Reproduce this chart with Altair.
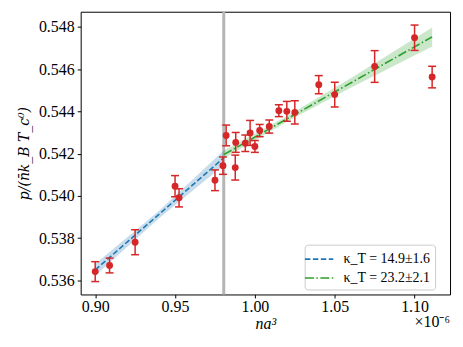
import altair as alt
import pandas as pd

# ---- data ----
na3 = [0.900, 0.909, 0.925, 0.950, 0.9525, 0.975, 0.980, 0.982, 0.9877, 0.988,
       0.994, 0.997, 1.000, 1.003, 1.009, 1.015, 1.020, 1.025, 1.040, 1.050,
       1.075, 1.100, 1.111]
p_norm = [0.53642, 0.53671, 0.53781, 0.54046, 0.53991, 0.54074, 0.54143, 0.54286,
          0.54134, 0.54253, 0.54249, 0.54298, 0.54234, 0.54309, 0.54328, 0.54403,
          0.54400, 0.54395, 0.54526, 0.54479, 0.54612, 0.54748, 0.54562]
p_err = [0.00047, 0.00035, 0.00059, 0.00050, 0.00043, 0.00049, 0.00041, 0.00049,
         0.00059, 0.00047, 0.00039, 0.00059, 0.00028, 0.00029, 0.00031, 0.00028,
         0.00047, 0.00055, 0.00043, 0.00059, 0.00075, 0.00060, 0.00051]

fit_labels = ["κ_T = 14.9±1.6", "κ_T = 23.2±2.1"]
fit1_x = [0.900, 0.9805]
fit1_y = [0.53650, 0.54180]
band1_x = [0.900, 0.940, 0.9805]
band1_lo = [0.53622, 0.53894, 0.54145]
band1_hi = [0.53678, 0.53930, 0.54215]
fit2_x = [0.9805, 1.111]
fit2_y = [0.54195, 0.54752]
band2_x = [0.9805, 1.020, 1.060, 1.111]
band2_lo = [0.54177, 0.54351, 0.54512, 0.54707]
band2_hi = [0.54213, 0.54377, 0.54556, 0.54797]
split_x = [0.9805]

x_ticks = [0.90, 0.95, 1.00, 1.05, 1.10]
y_ticks = [0.536, 0.538, 0.540, 0.542, 0.544, 0.546, 0.548]

# ---- tables ----
pts = pd.DataFrame({"x": na3, "y": p_norm, "e": p_err})
pts["lo"] = pts["y"] - pts["e"]
pts["hi"] = pts["y"] + pts["e"]

fits = pd.DataFrame({
    "x": fit1_x + fit2_x,
    "y": fit1_y + fit2_y,
    "fit": [fit_labels[0]] * len(fit1_x) + [fit_labels[1]] * len(fit2_x),
})
band1 = pd.DataFrame({"x": band1_x, "lo": band1_lo, "hi": band1_hi})
band2 = pd.DataFrame({"x": band2_x, "lo": band2_lo, "hi": band2_hi})
split = pd.DataFrame({"x": split_x})

FONT = "Liberation Serif"
RED = "#d62728"
BLUE = "#1f77b4"
GREEN = "#2ca02c"
xs = alt.Scale(domain=[0.8909, 1.1222], nice=False, zero=False)
ys = alt.Scale(domain=[0.53534, 0.54871], nice=False, zero=False)

X_AX = alt.Axis(values=x_ticks, format=".2f", title="na³", titleFont=FONT,
                titleFontSize=16, titleFontStyle="italic", titleFontWeight="normal",
                titleColor="black", titleY=29, titleBaseline="middle",
                labelFont=FONT, labelFontSize=16, labelColor="black", labelPadding=1,
                tickSize=3.5, tickColor="black", domain=False, grid=False)
Y_AX = alt.Axis(values=y_ticks, format=".3f", title="p/(n̄k_B T_c⁰)",
                titleFont="DejaVu Serif",
                titleFontSize=14, titleFontStyle="italic", titleFontWeight="normal",
                titleColor="black", titleAngle=270, titleX=-56, titleY=142,
                titleAlign="center", titleBaseline="middle",
                labelFont=FONT, labelFontSize=16, labelColor="black", labelPadding=3,
                tickSize=3.5, tickColor="black", domain=False, grid=False)

X = alt.X("x:Q", scale=xs, axis=X_AX)

LEG = alt.Legend(title=None, orient="none", legendX=225, legendY=234,
                 symbolType="M-1.5,0H1.5", symbolSize=361, symbolStrokeWidth=1.6,
                 labelFont=FONT, labelFontSize=14, labelColor="black",
                 labelOffset=14, rowPadding=1, padding=4, cornerRadius=3,
                 fillColor="white", strokeColor="#cccccc")
color_scale = alt.Scale(domain=fit_labels, range=[BLUE, GREEN])
dash_scale = alt.Scale(domain=fit_labels, range=[[5.5, 2.5], [9, 2.5, 1.5, 2.5]])

rule = alt.Chart(split).mark_rule(color="#b5b5b5", strokeWidth=3).encode(x=X)

area1 = alt.Chart(band1).mark_area(opacity=0.25, color=BLUE).encode(
    x=X, y=alt.Y("lo:Q", scale=ys, axis=Y_AX), y2="hi:Q")
area2 = alt.Chart(band2).mark_area(opacity=0.25, color=GREEN).encode(
    x=X, y=alt.Y("lo:Q", scale=ys, axis=Y_AX), y2="hi:Q")

lines = alt.Chart(fits).mark_line(strokeWidth=1.6).encode(
    x=X,
    y=alt.Y("y:Q", scale=ys, axis=Y_AX),
    color=alt.Color("fit:N", scale=color_scale, legend=LEG),
    strokeDash=alt.StrokeDash("fit:N", scale=dash_scale, legend=LEG),
)

ebar = alt.Chart(pts).mark_rule(color=RED, strokeWidth=1.5).encode(
    x=X, y=alt.Y("lo:Q", scale=ys, axis=Y_AX), y2="hi:Q")
cap_lo = alt.Chart(pts).mark_tick(color=RED, orient="horizontal", size=8,
                                  thickness=1.5, opacity=1).encode(
    x=X, y=alt.Y("lo:Q", scale=ys, axis=Y_AX))
cap_hi = alt.Chart(pts).mark_tick(color=RED, orient="horizontal", size=8,
                                  thickness=1.5, opacity=1).encode(
    x=X, y=alt.Y("hi:Q", scale=ys, axis=Y_AX))
dots = alt.Chart(pts).mark_circle(color=RED, size=48, opacity=1).encode(
    x=X, y=alt.Y("y:Q", scale=ys, axis=Y_AX))

mult = alt.Chart(pd.DataFrame({"t": ["×10⁻⁶"]})).mark_text(
    font=FONT, fontSize=16, align="right", baseline="middle", color="black"
).encode(text="t:N", x=alt.value(371), y=alt.value(312))

chart = alt.layer(rule, area1, area2, lines, ebar, cap_lo, cap_hi, dots, mult).properties(
    width=371, height=284,
    autosize=alt.AutoSizeParams(type="none"),
    padding={"left": 73, "top": 3, "right": 5, "bottom": 45},
).configure_view(stroke="black", strokeWidth=1)

chart.save("out.html", embed_options={"renderer": "svg", "actions": False})
